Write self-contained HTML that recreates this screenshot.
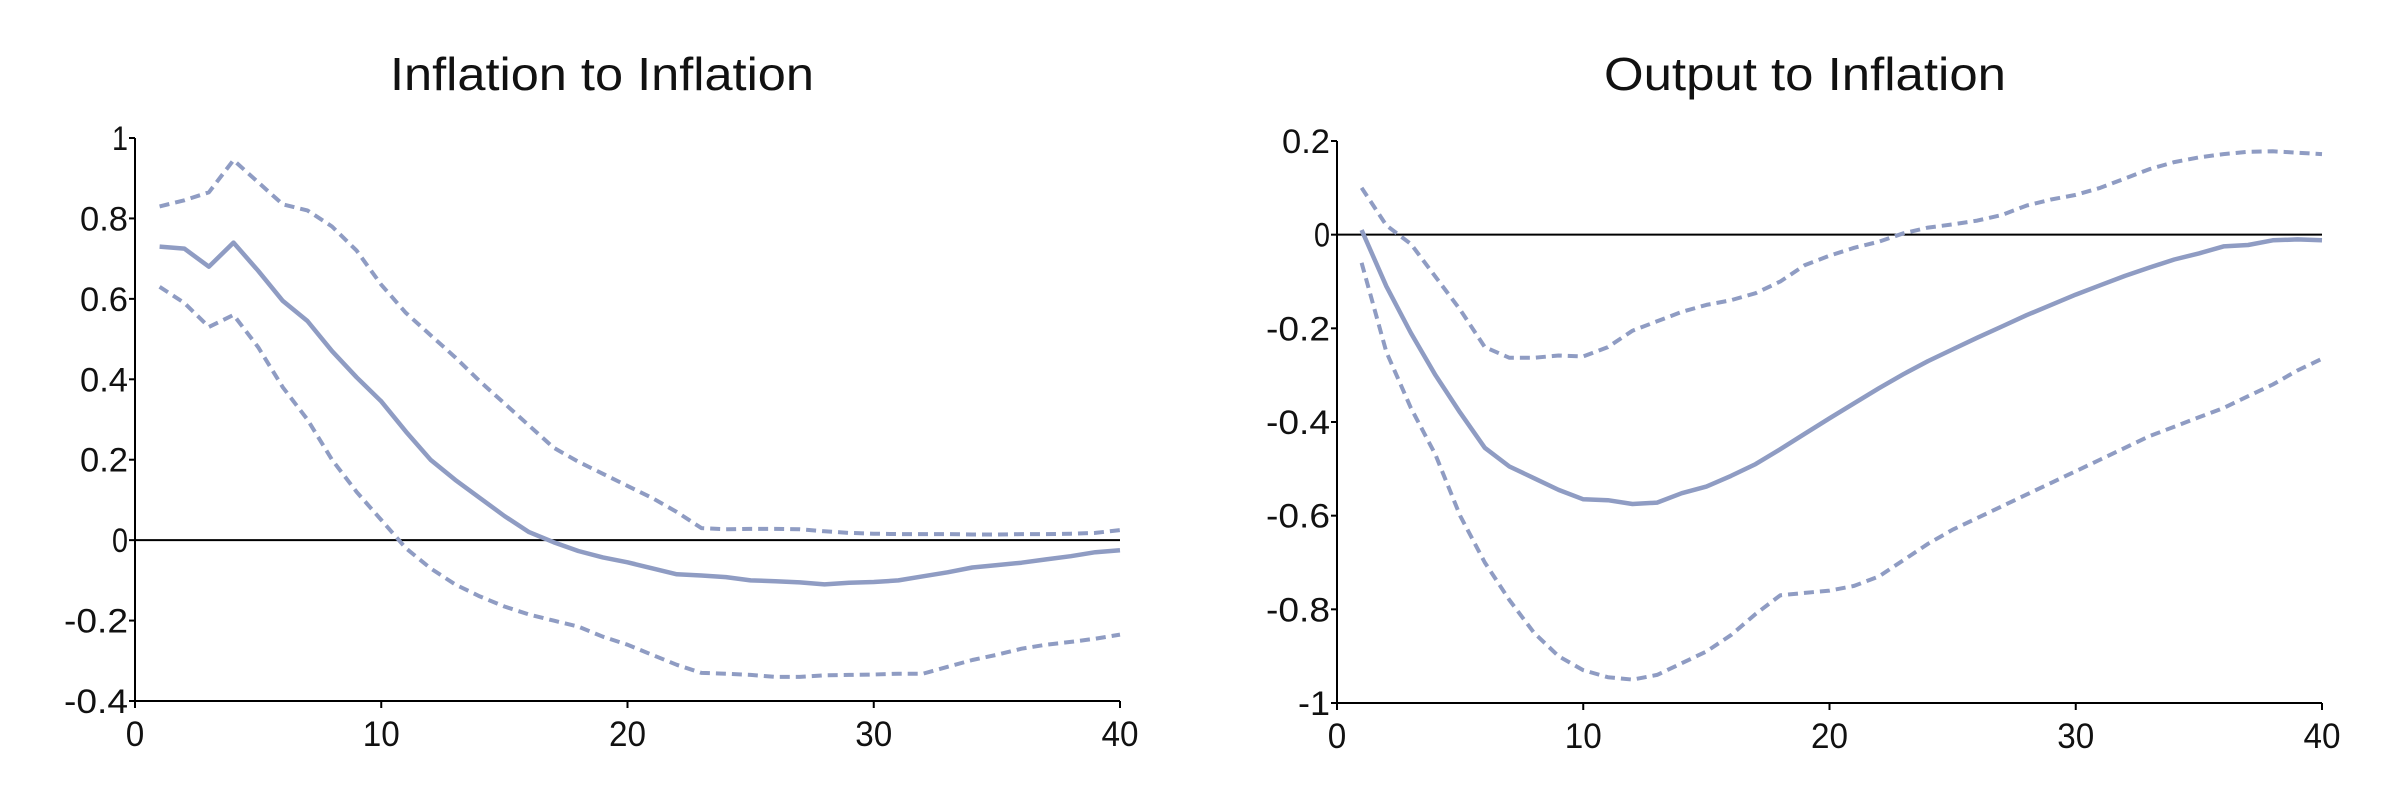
<!DOCTYPE html>
<html><head><meta charset="utf-8"><style>
html,body{margin:0;padding:0;background:#fff;overflow:hidden;}
svg{display:block;}
text{font-family:"Liberation Sans",sans-serif;fill:#111;}
</style></head><body>
<svg id="svg" width="2400" height="787" xmlns="http://www.w3.org/2000/svg"></svg>
<script>
const periods = Array.from({length:40},(_,i)=>i+1);
const xTicks = [0,10,20,30,40];
const infCentral = [0.73,0.725,0.68,0.74,0.67,0.595,0.545,0.47,0.405,0.345,0.27,0.2,0.15,0.105,0.06,0.02,-0.005,-0.027,-0.043,-0.055,-0.07,-0.085,-0.088,-0.092,-0.1,-0.102,-0.105,-0.11,-0.106,-0.104,-0.1,-0.09,-0.08,-0.068,-0.062,-0.056,-0.048,-0.04,-0.03,-0.025];
const infUpper = [0.83,0.845,0.865,0.945,0.89,0.835,0.82,0.78,0.72,0.635,0.565,0.51,0.455,0.395,0.34,0.285,0.23,0.195,0.165,0.135,0.105,0.07,0.03,0.027,0.028,0.028,0.027,0.022,0.018,0.016,0.015,0.015,0.015,0.014,0.014,0.015,0.015,0.016,0.018,0.025];
const infLower = [0.63,0.59,0.53,0.56,0.48,0.38,0.3,0.2,0.12,0.05,-0.02,-0.07,-0.11,-0.14,-0.165,-0.185,-0.2,-0.215,-0.24,-0.26,-0.285,-0.31,-0.33,-0.332,-0.335,-0.34,-0.34,-0.336,-0.335,-0.334,-0.332,-0.332,-0.315,-0.298,-0.285,-0.27,-0.26,-0.253,-0.245,-0.235];
const infYTicks = [1,0.8,0.6,0.4,0.2,0,-0.2,-0.4];
const infYLabels = ["1","0.8","0.6","0.4","0.2","0","-0.2","-0.4"];
const outCentral = [0.01,-0.11,-0.21,-0.3,-0.38,-0.455,-0.495,-0.52,-0.545,-0.565,-0.567,-0.575,-0.572,-0.552,-0.538,-0.515,-0.49,-0.458,-0.425,-0.392,-0.36,-0.328,-0.298,-0.27,-0.245,-0.22,-0.196,-0.172,-0.15,-0.128,-0.108,-0.088,-0.07,-0.053,-0.04,-0.025,-0.022,-0.012,-0.01,-0.012];
const outUpper = [0.1,0.02,-0.02,-0.09,-0.16,-0.24,-0.263,-0.263,-0.258,-0.26,-0.24,-0.205,-0.185,-0.165,-0.15,-0.14,-0.125,-0.1,-0.065,-0.045,-0.028,-0.015,0.003,0.015,0.022,0.03,0.042,0.062,0.075,0.085,0.1,0.12,0.14,0.155,0.165,0.172,0.177,0.178,0.175,0.172];
const outLower = [-0.06,-0.25,-0.37,-0.47,-0.6,-0.7,-0.78,-0.85,-0.9,-0.93,-0.945,-0.95,-0.94,-0.915,-0.89,-0.855,-0.81,-0.77,-0.765,-0.76,-0.75,-0.73,-0.695,-0.66,-0.63,-0.605,-0.58,-0.555,-0.53,-0.505,-0.48,-0.455,-0.43,-0.41,-0.39,-0.37,-0.345,-0.32,-0.29,-0.265];
const outYTicks = [0.2,0,-0.2,-0.4,-0.6,-0.8,-1];
const outYLabels = ["0.2","0","-0.2","-0.4","-0.6","-0.8","-1"];

const NS="http://www.w3.org/2000/svg";
const svg=document.getElementById('svg');
function mk(tag,attrs,parent){const e=document.createElementNS(NS,tag);for(const k in attrs)e.setAttribute(k,attrs[k]);(parent||svg).appendChild(e);return e;}

function panel(opt){
  const g=mk('g',{});
  
  
  const sx=v=>opt.x0+(v-0)/(40-0)*(opt.x1-opt.x0);
  const sy=v=>opt.yTop+(opt.ymax-v)/(opt.ymax-opt.ymin)*(opt.yBot-opt.yTop);
  const t=mk('text',{x:opt.tx,y:90,'font-size':46,'text-anchor':'middle',textLength:opt.titleLen,lengthAdjust:'spacingAndGlyphs'},g);
  t.textContent=opt.title;
  
  
  const z=mk('line',{x1:opt.x0,x2:opt.x1,y1:sy(0),y2:sy(0),stroke:'#000','stroke-width':2},g);
  
  
  const ya=mk('line',{x1:opt.x0,x2:opt.x0,y1:sy(opt.ymax),y2:opt.yBot,stroke:'#000','stroke-width':2},g);
  
  
  const xa=mk('line',{x1:opt.x0,x2:opt.x1,y1:opt.yBot,y2:opt.yBot,stroke:'#000','stroke-width':2},g);
  
  
  opt.yTicks.forEach((v,i)=>{
    mk('line',{x1:opt.x0-6,x2:opt.x0,y1:sy(v),y2:sy(v),stroke:'#000','stroke-width':2},g);
    const l=mk('text',{x:opt.x0-7,y:sy(v)+12,'font-size':34,'text-anchor':'end',textLength:opt.yLabels[i].length*16,lengthAdjust:'spacingAndGlyphs'},g);
    l.textContent=opt.yLabels[i];
    
    
  });
  xTicks.forEach(v=>{
    mk('line',{x1:sx(v),x2:sx(v),y1:opt.yBot,y2:opt.yBot+7,stroke:'#000','stroke-width':2},g);
    const l=mk('text',{x:sx(v),y:opt.yBot+45,'font-size':35,'text-anchor':'middle',textLength:String(v).length*18.5,lengthAdjust:'spacingAndGlyphs'},g);
    l.textContent=String(v);
    
    
  });
  const series=[[opt.upper,true,'upper-bound'],[opt.lower,true,'lower-bound'],[opt.central,false,'impulse-response']];
  series.forEach(([arr,dash,nm])=>{
    const d=arr.map((v,i)=>(i?'L':'M')+sx(periods[i]).toFixed(1)+' '+sy(v).toFixed(1)).join(' ');
    const p=mk('path',{d:d,fill:'none',stroke:'#8f9cc3','stroke-width':dash?4:4.5,'stroke-dasharray':dash?'10 6':'none','stroke-linejoin':'round'},g);
    
    
  });
}
panel({name:'inflation-to-inflation-panel',title:'Inflation to Inflation',tx:602,titleLen:424,x0:135,x1:1120,yTop:138,yBot:701,ymax:1,ymin:-0.4,yTicks:infYTicks,yLabels:infYLabels,central:infCentral,upper:infUpper,lower:infLower});
panel({name:'output-to-inflation-panel',title:'Output to Inflation',tx:1805,titleLen:402,x0:1337,x1:2322,yTop:141,yBot:703,ymax:0.2,ymin:-1,yTicks:outYTicks,yLabels:outYLabels,central:outCentral,upper:outUpper,lower:outLower});
</script>
</body></html>
